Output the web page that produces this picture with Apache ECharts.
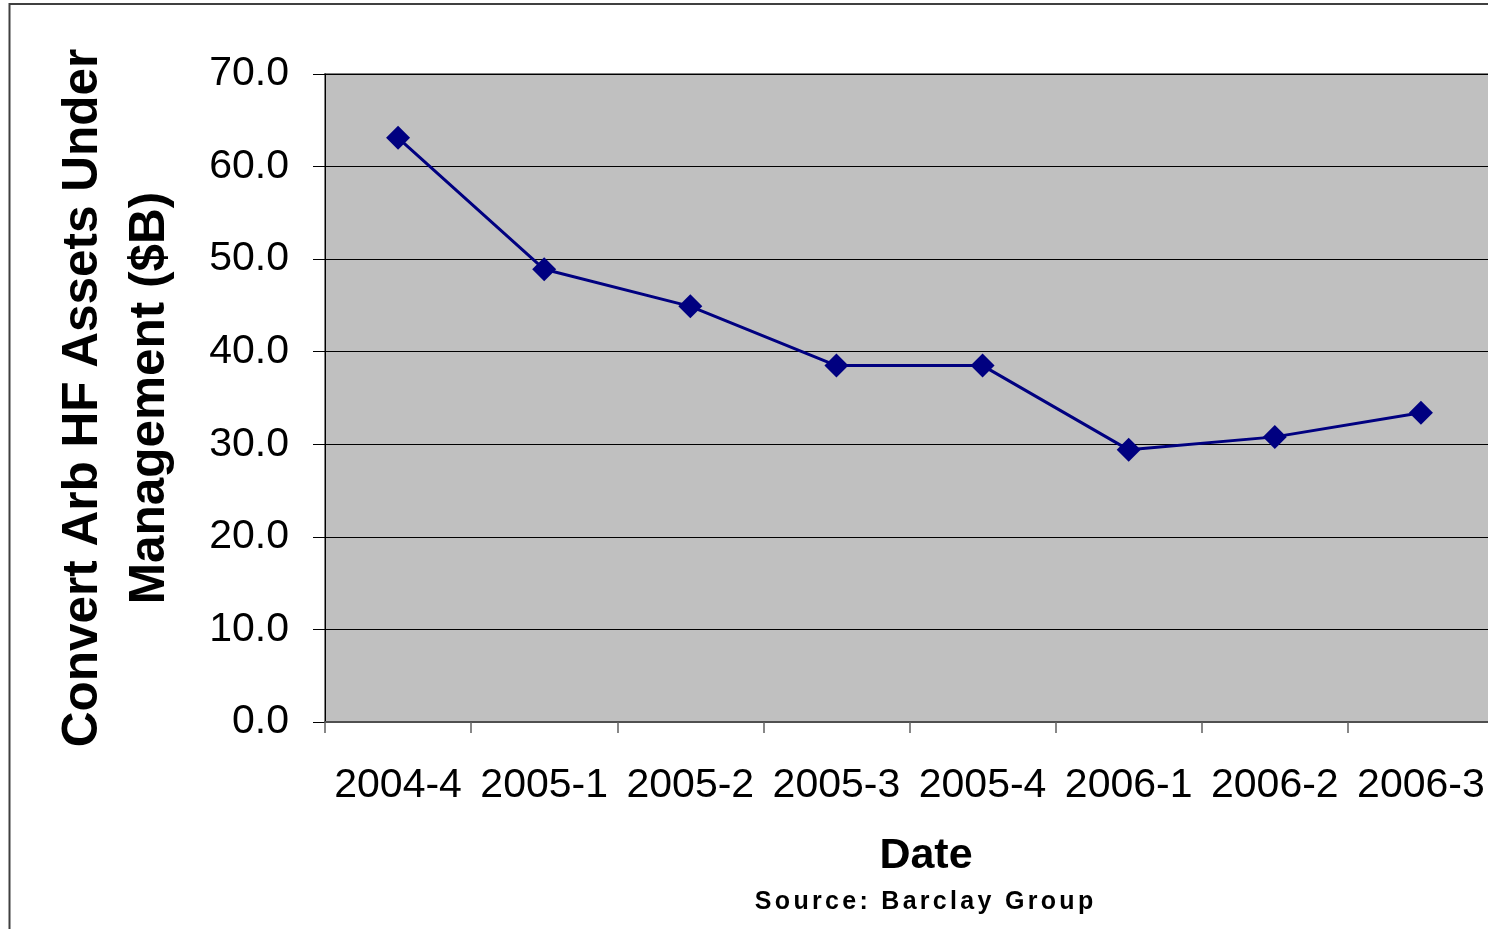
<!DOCTYPE html>
<html>
<head>
<meta charset="utf-8">
<title>Convert Arb HF Assets Under Management</title>
<script src="https://cdn.jsdelivr.net/npm/echarts@6/dist/echarts.min.js"></script>
<style>
  html, body { margin: 0; padding: 0; background: #ffffff; }
  #chart { width: 1488px; height: 929px; }
</style>
</head>
<body>
<div id="chart"></div>
<script>
// Quarterly assets under management, $B
const quarters = ['2004-4', '2005-1', '2005-2', '2005-3', '2005-4', '2006-1', '2006-2', '2006-3'];
const assets = [63.1, 48.9, 44.9, 38.5, 38.5, 29.4, 30.8, 33.4];
const yMin = 0;
const yMax = 70;
const yStep = 10;

const FONT = '"Liberation Sans", Arial, sans-serif';
const SOURCE_TEXT = 'Source: Barclay Group';

// Spaced-out source line: one text element per character, laid out with measured widths
function spacedText(text, font, spacing, cx, cy) {
  const ctx = document.createElement('canvas').getContext('2d');
  ctx.font = font;
  const widths = Array.from(text).map(ch => ctx.measureText(ch).width);
  const total = widths.reduce((a, b) => a + b, 0) + spacing * (widths.length - 1);
  let x = cx - total / 2;
  const parts = [];
  Array.from(text).forEach((ch, i) => {
    parts.push({
      type: 'text',
      silent: true,
      x: x,
      y: cy,
      style: { text: ch, font: font, fill: '#000000', align: 'left', verticalAlign: 'middle' }
    });
    x += widths[i] + spacing;
  });
  return parts;
}

const chart = echarts.init(document.getElementById('chart'), null, { renderer: 'canvas' });

chart.setOption({
  animation: false,
  backgroundColor: '#ffffff',
  grid: {
    left: 325,
    top: 74,
    width: 1169,
    bottom: 207,
    containLabel: false,
    outerBoundsMode: 'none',
    show: true,
    backgroundColor: '#c0c0c0',
    borderColor: '#808080',
    borderWidth: 2
  },
  xAxis: {
    type: 'category',
    data: quarters,
    boundaryGap: true,
    axisLine: { show: true, lineStyle: { color: '#505050', width: 2 } },
    axisTick: { show: true, length: 11, lineStyle: { color: '#606060', width: 1.5 } },
    axisLabel: {
      color: '#000000',
      fontFamily: FONT,
      fontSize: 41,
      margin: 43,
      interval: 0
    },
    splitLine: { show: false }
  },
  yAxis: {
    type: 'value',
    min: yMin,
    max: yMax,
    interval: yStep,
    axisLine: { show: true, lineStyle: { color: '#000000', width: 1 } },
    axisTick: { show: true, length: 12, lineStyle: { color: '#000000', width: 1 } },
    axisLabel: {
      color: '#000000',
      fontFamily: FONT,
      fontSize: 41,
      margin: 36,
      formatter: v => v.toFixed(1)
    },
    splitLine: { show: true, lineStyle: { color: '#000000', width: 1 } }
  },
  series: [{
    type: 'line',
    data: assets,
    symbol: 'diamond',
    symbolSize: 24,
    showAllSymbol: true,
    lineStyle: { color: '#000080', width: 3 },
    itemStyle: { color: '#000080' },
    emphasis: { disabled: true }
  }],
  graphic: [
    {
      type: 'rect',
      silent: true,
      shape: { x: 9.5, y: 4, width: 1600, height: 1100 },
      style: { fill: 'none', stroke: '#404040', lineWidth: 2 },
      z: 100
    },
    {
      type: 'text',
      silent: true,
      x: 117,
      y: 398,
      rotation: Math.PI / 2,
      style: {
        text: 'Convert Arb HF Assets Under\nManagement ($B)',
        font: 'bold 49.5px ' + FONT,
        fill: '#000000',
        align: 'center',
        verticalAlign: 'middle',
        lineHeight: 67
      }
    },
    {
      type: 'text',
      silent: true,
      x: 926,
      y: 856,
      style: {
        text: 'Date',
        font: 'bold 43px ' + FONT,
        fill: '#000000',
        align: 'center',
        verticalAlign: 'middle'
      }
    },
    {
      type: 'group',
      silent: true,
      children: spacedText(SOURCE_TEXT, 'bold 25px ' + FONT, 3.3, 924, 902)
    }
  ]
});
</script>
</body>
</html>
